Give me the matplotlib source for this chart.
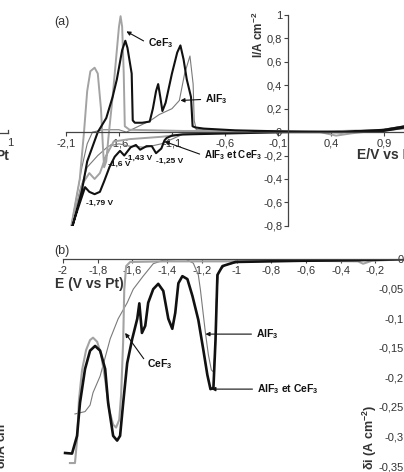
import matplotlib
matplotlib.use("Agg")
from matplotlib import pyplot as plt
from matplotlib.lines import Line2D
import numpy as np

plt.rcParams['font.family'] = ['Liberation Sans', 'DejaVu Sans']
plt.rcParams['mathtext.fontset'] = 'custom'
plt.rcParams['mathtext.rm'] = 'Liberation Sans'
plt.rcParams['mathtext.bf'] = 'Liberation Sans:bold'

# ---- (a) cyclic voltammograms, E (V vs Pt) / I (A cm-2) ----
# AlF3 et CeF3 (black)
E_mix = [1.1, 0.9, 0.5, 0.0, -0.5, -1.0, -1.1, -1.15, -1.17, -1.2, -1.25, -1.29, -1.34, -1.4,
         -1.44, -1.49, -1.55, -1.59, -1.64, -1.69, -1.74, -1.78, -1.83, -1.88, -1.92, -1.99, -2.04, -2.08,
         -1.95, -1.9, -1.8, -1.72, -1.66, -1.62, -1.57, -1.54, -1.52, -1.5, -1.48, -1.47, -1.45,
         -1.38, -1.31, -1.28, -1.25, -1.23, -1.21, -1.19, -1.16, -1.1, -1.05, -1.02, -0.99,
         -0.96, -0.92, -0.905, -0.88, -0.8, -0.5, 0.0, 0.5, 0.9, 1.1]
I_mix = [0.04, 0.01, 0.0, 0.0, -0.01, -0.02, -0.03, -0.05, -0.07, -0.14, -0.18, -0.12, -0.12, -0.15,
         -0.11, -0.13, -0.2, -0.16, -0.21, -0.3, -0.42, -0.51, -0.53, -0.51, -0.47, -0.66, -0.8, -0.95,
         -0.5, -0.25, 0.0, 0.12, 0.3, 0.45, 0.7, 0.78, 0.72, 0.61, 0.5, 0.1, 0.08,
         0.08, 0.09, 0.2, 0.35, 0.41, 0.3, 0.18, 0.25, 0.5, 0.68, 0.74, 0.62,
         0.45, 0.3, 0.05, 0.04, 0.03, 0.015, 0.005, 0.0, 0.02, 0.05]

# CeF3 (grey)
E_ce = [1.1, 0.9, 0.6, 0.45, 0.3, 0.0, -0.5, -1.0, -1.2, -1.5, -1.65, -1.72, -1.78, -1.83, -1.88,
        -1.95, -2.0, -2.08,
        -1.97, -1.93, -1.9, -1.87, -1.83, -1.8, -1.77, -1.75, -1.74, -1.72, -1.7, -1.66, -1.62,
        -1.6, -1.585, -1.57, -1.555, -1.545, -1.5, -1.0, -0.5, 0.0, 0.5, 0.9, 1.1]
I_ce = [0.05, 0.02, -0.01, -0.03, 0.0, 0.0, 0.0, -0.02, -0.04, -0.06, -0.08, -0.2, -0.35, -0.4, -0.35,
        -0.45, -0.65, -0.95,
        -0.4, 0.0, 0.35, 0.52, 0.55, 0.5, 0.2, -0.15, -0.3, -0.25, -0.05, 0.3, 0.7,
        0.9, 0.99, 0.9, 0.5, 0.05, 0.02, 0.01, 0.01, 0.01, 0.0, 0.02, 0.05]

# AlF3 (thin grey)
E_al = [1.1, 0.9, 0.0, -0.8, -1.0, -1.1, -1.2, -1.35, -1.5, -1.6, -1.7, -1.8, -1.9, -1.97, -2.08,
        -1.95, -1.9, -1.85, -1.75, -1.6, -1.53, -1.3, -1.22, -1.1, -1.03, -0.98, -0.93, -0.9,
        -0.89, -0.87, -0.8, 0.0, 0.9, 1.1]
I_al = [0.03, 0.01, 0.0, -0.01, -0.02, -0.06, -0.1, -0.13, -0.12, -0.1, -0.12, -0.2, -0.3, -0.5, -0.95,
        -0.3, -0.1, 0.0, 0.02, 0.02, 0.0, 0.1, 0.15, 0.2, 0.27, 0.5, 0.65, 0.41,
        0.1, 0.02, 0.02, 0.005, 0.02, 0.04]

xticks_a = [-2.1, -1.6, -1.1, -0.6, -0.1, 0.4, 0.9]
yticks_a = [-0.8, -0.6, -0.4, -0.2, 0, 0.2, 0.4, 0.6, 0.8, 1]
peaks_a = [(-1.783, -0.612, '-1,79 V'), (-1.6, -0.275, '-1,6 V'),
           (-1.415, -0.224, '-1,43 V'), (-1.123, -0.25, '-1,25 V')]

# ---- (b) square wave voltammograms, E (V vs Pt) / di (A cm-2) ----
Eb_mix = [-1.988, -1.948, -1.919, -1.902, -1.873, -1.844, -1.815, -1.786, -1.757, -1.74, -1.711,
          -1.688, -1.671, -1.653, -1.63, -1.601, -1.572, -1.56, -1.545, -1.526, -1.509, -1.48,
          -1.451, -1.422, -1.393, -1.37, -1.353, -1.335, -1.312, -1.283, -1.254, -1.22, -1.191,
          -1.168, -1.15, -1.133, -1.121, -1.11, -1.081, -1.006, -0.63, -0.3, 0.0]
Db_mix = [-0.328, -0.329, -0.299, -0.243, -0.186, -0.155, -0.147, -0.155, -0.186, -0.243, -0.299,
          -0.307, -0.299, -0.243, -0.176, -0.135, -0.101, -0.075, -0.125, -0.113, -0.074, -0.051,
          -0.042, -0.054, -0.101, -0.118, -0.091, -0.041, -0.029, -0.034, -0.0625, -0.103, -0.154,
          -0.196, -0.22, -0.218, -0.137, -0.027, -0.012, -0.005, -0.003, -0.002, 0.0]

Eb_ce = [-1.96, -1.931, -1.919, -1.908, -1.89, -1.867, -1.844, -1.827, -1.803, -1.78, -1.757,
         -1.734, -1.711, -1.694, -1.676, -1.665, -1.653, -1.647, -1.636, -1.613, -1.4, -1.1, -0.6,
         -0.3, -0.27, -0.22, 0.0]
Db_ce = [-0.345, -0.345, -0.306, -0.238, -0.1875, -0.154, -0.137, -0.133, -0.14, -0.162, -0.204,
         -0.255, -0.28, -0.285, -0.272, -0.23, -0.137, -0.052, -0.012, -0.005, -0.004, -0.004, -0.003,
         -0.004, -0.008, -0.003, 0.0]

Eb_al = [-1.931, -1.873, -1.844, -1.827, -1.786, -1.728, -1.682, -1.63, -1.595, -1.538, -1.48,
         -1.422, -1.295, -1.249, -1.22, -1.208, -1.191, -1.179, -1.162, -1.145, -1.133, -1.121,
         -1.116, -1.104, -1.064, -0.977, -0.5, 0.0]
Db_al = [-0.262, -0.258, -0.247, -0.226, -0.198, -0.135, -0.101, -0.074, -0.051, -0.029, -0.008,
         -0.002, 0.0, -0.007, -0.027, -0.052, -0.095, -0.125, -0.162, -0.1875, -0.191, -0.145,
         -0.069, -0.022, -0.01, -0.005, -0.002, 0.0]

xticks_b = [-2, -1.8, -1.6, -1.4, -1.2, -1, -0.8, -0.6, -0.4, -0.2]
yticks_b = [-0.35, -0.3, -0.25, -0.2, -0.15, -0.1, -0.05, 0]

c_black = '#111111'
c_ce = '#a3a3a3'
c_al = '#7a7a7a'
c_axis = '#444444'
c_tick = '#333333'

W, H = 404, 472
fig = plt.figure(figsize=(W / 100, H / 100), dpi=100)


def fmt(v):
    return ('%g' % v).replace('.', ',')


def setup_axes(ax, xt, yt):
    for s in ['top', 'right']:
        ax.spines[s].set_visible(False)
    ax.spines['left'].set_position(('data', 0))
    ax.spines['bottom'].set_position(('data', 0))
    for s in ['left', 'bottom']:
        ax.spines[s].set_color(c_axis)
        ax.spines[s].set_linewidth(0.9)
    ax.set_xticks(xt)
    ax.set_xticklabels([fmt(v) for v in xt])
    ax.set_yticks(yt)
    ax.set_yticklabels([fmt(v) for v in yt])
    ax.tick_params(direction='out', length=3, width=0.8, color=c_axis,
                   labelsize=8, labelcolor=c_tick, pad=1.5)
    ax.patch.set_visible(False)


def arrow(ax, txt, xy, xytext, fs=7.5):
    ax.annotate(txt, xy=xy, xytext=xytext, ha='left', va='center',
                fontsize=fs, fontweight='bold', color=c_black,
                arrowprops=dict(arrowstyle='-|>', color=c_black, lw=0.8,
                                mutation_scale=6, shrinkA=1, shrinkB=0,
                                relpos=(0, 0.5)))


# panel (a)
ax1 = fig.add_axes([66 / W, 1 - 225.8 / H, 339 / W, 210.8 / H])
ax1.plot(E_al, I_al, color=c_al, lw=0.8)
ax1.plot(E_ce, I_ce, color=c_ce, lw=1.4)
ax1.plot(E_mix, I_mix, color=c_black, lw=1.5)
ax1.set_xlim(-2.1, 1.1)
ax1.set_ylim(-0.8, 1.0)
setup_axes(ax1, xticks_a, yticks_a)
for e, i, s in peaks_a:
    ax1.text(e, i, s, fontsize=6, fontweight='bold', ha='center', va='center', color=c_black)
arrow(ax1, 'CeF$_\\mathbf{3}$', (-1.53, 0.86), (-1.33, 0.76))
arrow(ax1, 'AlF$_\\mathbf{3}$', (-1.02, 0.27), (-0.79, 0.28))
arrow(ax1, 'AlF$_\\mathbf{3}$ et CeF$_\\mathbf{3}$', (-1.17, -0.08), (-0.8, -0.2), fs=7)

# panel (b)
ax2 = fig.add_axes([63 / W, 1 - 466 / H, 347 / W, 207 / H])
ax2.plot(Eb_al, Db_al, color=c_al, lw=0.8)
ax2.plot(Eb_ce, Db_ce, color=c_ce, lw=1.5)
ax2.plot(Eb_mix, Db_mix, color=c_black, lw=1.9)
ax2.set_xlim(-2.0, 0.0)
ax2.set_ylim(-0.35, 0.0)
setup_axes(ax2, xticks_b, yticks_b)
ax2.tick_params(axis='x', pad=2)
arrow(ax2, 'CeF$_\\mathbf{3}$', (-1.642, -0.125), (-1.514, -0.177))
arrow(ax2, 'AlF$_\\mathbf{3}$', (-1.179, -0.127), (-0.89, -0.127))
arrow(ax2, 'AlF$_\\mathbf{3}$ et CeF$_\\mathbf{3}$', (-1.145, -0.22), (-0.884, -0.22))

# figure texts
fig.text(62 / W, 1 - 22 / H, '(a)', fontsize=9, ha='center', va='center', color=c_tick)
fig.text(62 / W, 1 - 251 / H, '(b)', fontsize=9, ha='center', va='center', color=c_tick)
fig.text(258 / W, 1 - 35 / H, 'I/A cm$^{\\mathbf{-2}}$', rotation=90, fontsize=8.5,
         fontweight='bold', ha='center', va='center', color=c_tick)
fig.text(357 / W, 1 - 155 / H, 'E/V vs Pt', fontsize=10, fontweight='bold',
         ha='left', va='center', color=c_tick)
fig.text(55 / W, 1 - 284 / H, 'E (V vs Pt)', fontsize=10, fontweight='bold',
         ha='left', va='center', color=c_tick)
fig.text(370 / W, 1 - 437 / H, 'δi (A cm$^{\\mathbf{-2}}$)', rotation=90, fontsize=9,
         fontweight='bold', ha='center', va='center', color=c_tick)

# fragments of the neighbouring figure at the left edge
fig.text(1 / W, 1 - 441 / H, 'δI/A cm$^{\\mathbf{-2}}$', rotation=90, fontsize=9,
         fontweight='bold', ha='center', va='center', color=c_tick)
fig.text(9 / W, 1 - 156 / H, 'Pt', fontsize=10, fontweight='bold', ha='right', va='center', color=c_tick)
fig.text(10 / W, 1 - 143 / H, '1', fontsize=8, ha='center', va='center', color=c_tick)
fig.add_artist(Line2D([0, 8 / W], [1 - 133 / H, 1 - 133 / H], color=c_axis, lw=0.9))
fig.add_artist(Line2D([8 / W, 8 / W], [1 - 133 / H, 1 - 130 / H], color=c_axis, lw=0.9))

plt.savefig('out.png', dpi=100)
